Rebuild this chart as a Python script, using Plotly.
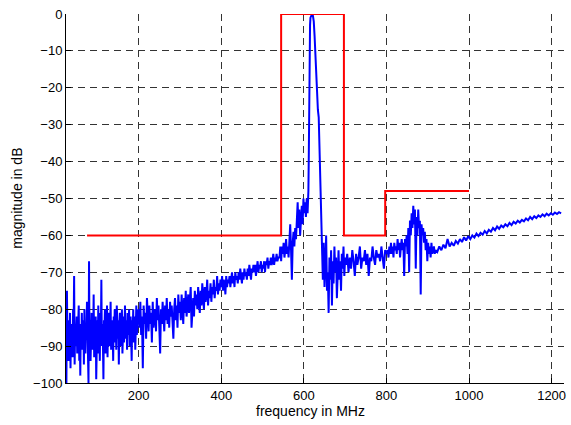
import numpy as np
import plotly.graph_objects as go

# ---------------- data ----------------
# spectrum segments: (start MHz, end MHz, magnitude values in dB)
seg_a_db = [-100, -75, -88, -83, -94, -86, -90, -81, -96, -85,
            -89, -84, -93, -80, -86, -71, -95, -84, -90, -87,
            -82, -92, -85, -88, -79, -94, -86, -98, -84, -89,
            -81, -91, -86, -83, -95, -80, -88, -92, -84, -87,
            -78, -90, -85, -100, -67, -89, -83, -94, -86, -81,
            -91, -84, -88, -76, -93, -85, -90, -82, -99, -86,
            -83, -92, -79, -88, -85, -94, -81, -87, -72, -90,
            -84, -89, -99, -83, -86, -80, -92, -85, -88, -79,
            -93, -84, -87, -81, -90, -85, -78, -91, -83, -88,
            -86, -94, -82, -87, -80, -89, -84, -91, -79, -86,
            -88, -83, -95, -85, -81, -90, -84, -87, -80, -92,
            -85, -82, -89, -84, -79, -88, -86, -83, -91, -81,
            -87, -84, -80, -90, -85, -82, -88, -94, -83, -86,
            -80, -89, -84, -82, -91, -85, -79, -87, -83, -81]
seg_b_db = [-80, -85, -78, -87, -82, -96, -79, -84, -81, -88,
            -77, -83, -86, -79, -84, -81, -89, -78, -85, -82,
            -80, -86, -77, -83, -79, -85, -92, -80, -84, -78,
            -82, -86, -79, -83, -77, -84, -80, -85, -78, -82,
            -79, -84, -88, -80, -77, -83, -79, -85, -76, -81,
            -78, -83, -76, -80, -84, -77, -81, -75, -82, -79,
            -76, -81, -78, -74, -85, -79, -77, -82, -75, -79,
            -76, -80, -74, -78, -81, -75, -79, -73, -77, -80,
            -74, -78, -76, -72, -79, -75, -77, -73, -78, -74,
            -76, -72, -77, -74, -75, -71, -76, -73, -75, -72,
            -74, -71, -75, -72, -73, -76, -71, -74, -72, -73,
            -71, -74, -72, -70, -73, -71, -74, -70, -72, -71,
            -73, -70, -72, -69, -71, -73, -70, -72, -69, -71,
            -70, -72, -69, -71, -68, -70, -72, -69, -70, -68,
            -70, -68, -71, -69, -67, -70, -68, -69, -67, -70,
            -68, -69, -67, -70, -67, -68, -66, -69, -67, -68,
            -66, -68, -67, -65, -68, -66, -67, -65, -67, -66]
seg_c1_db = [-66, -63, -67, -63, -65, -62, -66, -64, -61, -65,
             -63, -66, -60, -57, -64, -72, -62, -59, -63, -58,
             -61, -55, -51, -58, -53, -60, -56, -52, -57, -50,
             -54, -51]
peak_mhz = [605, 607, 609, 611, 612, 613, 614, 615, 616, 618, 620, 622,
            624, 626, 628, 630, 632, 634, 636, 638, 640, 642, 644, 646]
peak_db = [-55, -50, -54, -48, -38, -20, -7, -3, -1, -0.2, 0, -0.5,
           -2, -6, -12, -18, -23, -26, -28, -36, -46, -57, -66, -72]
seg_c2_db = [-62, -74, -68, -60, -75, -70, -81, -66, -72, -64,
             -79, -67, -73, -63, -70, -66, -77, -68, -64, -72,
             -67, -75, -65, -69, -63, -71, -66]
seg_d_db = [-68, -65, -70, -66, -69, -64, -67, -71, -65, -68,
            -66, -63, -69, -66, -67, -64, -68, -65, -71, -66,
            -67, -63, -66, -68, -64, -66, -65, -67, -63, -66,
            -69, -64, -65]
seg_e_db = [-64, -66, -63, -65, -62, -65, -63, -66, -62, -64,
            -63, -65, -61, -64, -62, -66, -63, -61, -64, -62,
            -71, -61, -63, -60, -65, -58, -70, -56, -60, -54,
            -58, -52, -57, -53, -69, -55, -60, -53, -58, -56,
            -76, -57, -60, -58, -62, -59, -64, -61, -67, -62,
            -65, -63, -66, -62, -65, -64, -63, -65, -64]
seg_f_db = [-64.5, -63, -64, -62.5, -63.5, -61, -63, -62, -62.8, -61.5,
            -62.2, -61, -61.8, -60.5, -61.4, -60.2, -61, -60, -60.6, -59.5,
            -60.2, -59.3, -59.8, -58.8, -59.5, -58.5, -59, -58, -58.6, -57.6,
            -58.2, -57.3, -57.8, -57, -57.5, -56.6, -57.2, -56.3, -56.8, -56,
            -56.5, -55.8, -56.2, -55.4, -55.9, -55, -55.6, -54.8, -55.3, -54.6,
            -55, -54.3, -54.8, -54.1, -54.6, -54, -54.4, -53.8, -54.2, -53.7,
            -54]

segments = [
    (25, 198, seg_a_db),
    (200, 538, seg_b_db),
    (541, 603, seg_c1_db),
    (648, 700, seg_c2_db),
    (702, 800, seg_d_db),
    (803, 919, seg_e_db),
    (923, 1223, seg_f_db),
]

# spectral mask
mask_mhz = [75, 545, 545, 697, 697, 797, 797, 1000]
mask_db = [-60, -60, 0, 0, -60, -60, -48, -48]

x_ticks = [200, 400, 600, 800, 1000, 1200]
y_ticks = [-100, -90, -80, -70, -60, -50, -40, -30, -20, -10, 0]

# ---------------- assemble spectrum ----------------
freq = []
mag = []
for i, (a, b, vals) in enumerate(segments):
    xs = list(np.linspace(a, b, len(vals)))
    freq += xs
    mag += vals
    if i == 2:
        freq += peak_mhz
        mag += peak_db

fig = go.Figure()
fig.add_trace(go.Scatter(x=freq, y=mag, mode="lines",
                         line=dict(color="#0000FF", width=2), hoverinfo="skip"))
fig.add_trace(go.Scatter(x=mask_mhz, y=mask_db, mode="lines",
                         line=dict(color="#FF0000", width=2), hoverinfo="skip"))

font = dict(family="Liberation Sans, Arial, sans-serif", size=13, color="black")
title_font = dict(family="Liberation Sans, Arial, sans-serif", size=14, color="black")
grid = dict(showgrid=True, gridcolor="#333333", gridwidth=1, griddash="7px,5px",
            zeroline=False, showline=True, linecolor="black", linewidth=1,
            ticks="inside", ticklen=5, tickcolor="black", mirror=False,
            tickfont=font)

fig.update_layout(
    width=571, height=425,
    margin=dict(l=66, r=5, t=14, b=42),
    paper_bgcolor="white", plot_bgcolor="white",
    showlegend=False,
    font=font,
    xaxis=dict(range=[24, 1230], tickvals=x_ticks, **grid),
    yaxis=dict(range=[-100, 0], tickvals=y_ticks, **grid),
    annotations=[
        dict(text="frequency in MHz", xref="paper", yref="paper",
             x=0.49, y=-28 / 369, xanchor="center", yanchor="middle",
             showarrow=False, font=title_font),
        dict(text="magnitude in dB", xref="paper", yref="paper",
             x=-50 / 500, y=0.5, xanchor="center", yanchor="middle",
             textangle=-90, showarrow=False, font=title_font),
    ],
)

fig.write_html("out.html",
               config={"displayModeBar": False},
               post_script="document.body.style.margin='0';"
                           "document.body.style.padding='0';")
